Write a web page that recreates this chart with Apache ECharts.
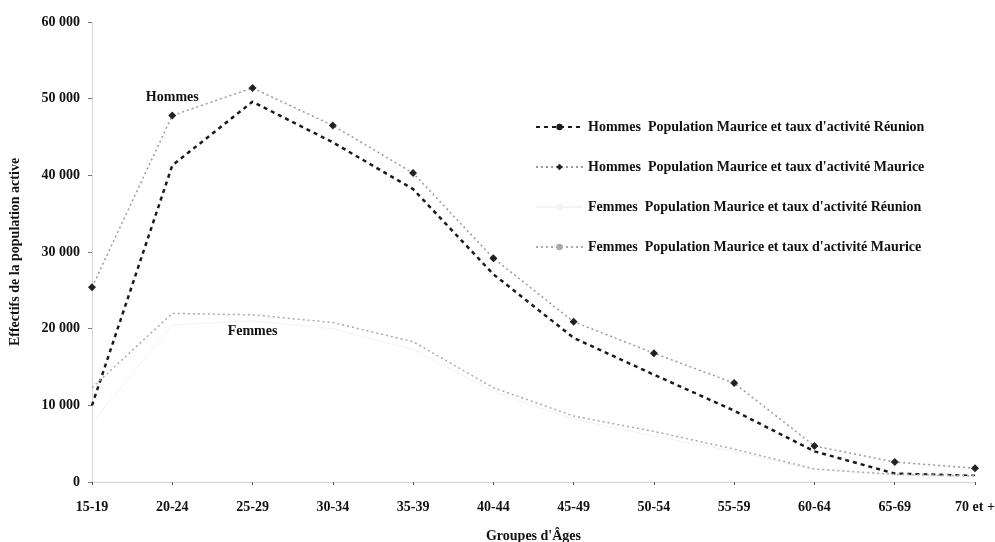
<!DOCTYPE html>
<html>
<head>
<meta charset="utf-8">
<script src="https://cdn.jsdelivr.net/npm/echarts@6/dist/echarts.min.js"></script>
<style>html,body{margin:0;padding:0;background:#fff;}#c{width:995px;height:542px;}</style>
</head>
<body>
<div id="c"></div>
<script>
const categories = ['15-19','20-24','25-29','30-34','35-39','40-44','45-49','50-54','55-59','60-64','65-69','70 et +'];
const hommesReunion = [10000, 41300, 49600, 44300, 38200, 27100, 18800, 14000, 9300, 4000, 1100, 800];
const hommesMaurice = [25400, 47800, 51400, 46500, 40300, 29200, 20900, 16800, 12900, 4700, 2600, 1800];
const femmesReunion = [7700, 20500, 21000, 20000, 17300, 11800, 8200, 6000, 4000, 1600, 900, 700];
const femmesMaurice = [12300, 22000, 21800, 20800, 18300, 12300, 8600, 6600, 4300, 1700, 1000, 800];
const seriesNames = [
  "Hommes  Population Maurice et taux d'activité Réunion",
  "Hommes  Population Maurice et taux d'activité Maurice",
  "Femmes  Population Maurice et taux d'activité Réunion",
  "Femmes  Population Maurice et taux d'activité Maurice"
];
const yTicks = {min: 0, max: 60000, interval: 10000};
const labelHommes = {text: 'Hommes', cat: '20-24', value: 50200};
const labelFemmes = {text: 'Femmes', cat: '25-29', value: 19600};

const FONT = '"Liberation Serif", "DejaVu Serif", serif';
const FS = 14;
const chart = echarts.init(document.getElementById('c'), null, {renderer: 'canvas'});
function fmt(v){ return v === 0 ? '0' : String(v).replace(/\B(?=(\d{3})+(?!\d))/g, ' '); }
function annot(l){
  return {
    symbol: 'circle', symbolSize: 1, itemStyle: {color: 'rgba(0,0,0,0)'},
    label: {show: true, position: 'inside', formatter: l.text, color: '#111',
      fontFamily: FONT, fontSize: FS, fontWeight: 'bold'},
    data: [{coord: [l.cat, l.value]}]
  };
}
chart.setOption({
  animation: false,
  backgroundColor: '#fff',
  textStyle: {fontFamily: FONT},
  grid: {left: 92, right: 20, top: 22, bottom: 60, containLabel: false, outerBoundsMode: 'none'},
  legend: {
    orient: 'vertical', left: 530, top: 115, itemWidth: 47, itemHeight: 8, itemGap: 26,
    textStyle: {fontFamily: FONT, fontSize: FS, fontWeight: 'bold', color: '#111'},
    data: seriesNames
  },
  xAxis: {
    type: 'category', data: categories, boundaryGap: false,
    name: "Groupes d'Âges", nameLocation: 'middle', nameGap: 47,
    nameTextStyle: {fontFamily: FONT, fontSize: FS, fontWeight: 'bold', color: '#111'},
    axisLine: {lineStyle: {color: '#c8c8c8', type: 'dotted'}},
    axisTick: {show: true, length: 3, lineStyle: {color: '#555'}},
    axisLabel: {margin: 18, fontFamily: FONT, fontSize: FS, fontWeight: 'bold', color: '#111', interval: 0}
  },
  yAxis: {
    type: 'value', min: yTicks.min, max: yTicks.max, interval: yTicks.interval,
    name: 'Effectifs de la population active', nameLocation: 'middle', nameGap: 70,
    nameTextStyle: {fontFamily: FONT, fontSize: FS, fontWeight: 'bold', color: '#111'},
    axisLine: {show: true, lineStyle: {color: '#d0d0d0', type: 'dotted'}},
    axisTick: {show: true, length: 4, lineStyle: {color: '#777'}},
    splitLine: {show: false},
    axisLabel: {margin: 12, fontFamily: FONT, fontSize: FS, fontWeight: 'bold', color: '#111', formatter: fmt}
  },
  series: [
    {name: seriesNames[0], type: 'line', data: hommesReunion, symbol: 'none',
      itemStyle: {color: '#1a1a1a'},
      lineStyle: {color: '#1a1a1a', width: 2.5, type: [4, 4]}},
    {name: seriesNames[1], type: 'line', data: hommesMaurice, symbol: 'diamond', symbolSize: 8,
      itemStyle: {color: '#222'},
      lineStyle: {color: '#9a9a9a', width: 1.5, type: [2, 3]},
      markPoint: annot(labelHommes)},
    {name: seriesNames[2], type: 'line', data: femmesReunion, symbol: 'none',
      itemStyle: {color: '#f3f3f3'},
      lineStyle: {color: '#f3f3f3', width: 1}},
    {name: seriesNames[3], type: 'line', data: femmesMaurice, symbol: 'none',
      itemStyle: {color: '#aaaaaa'},
      lineStyle: {color: '#aaaaaa', width: 1.5, type: [2, 3]},
      markPoint: annot(labelFemmes)}
  ]
});
</script>
</body>
</html>
